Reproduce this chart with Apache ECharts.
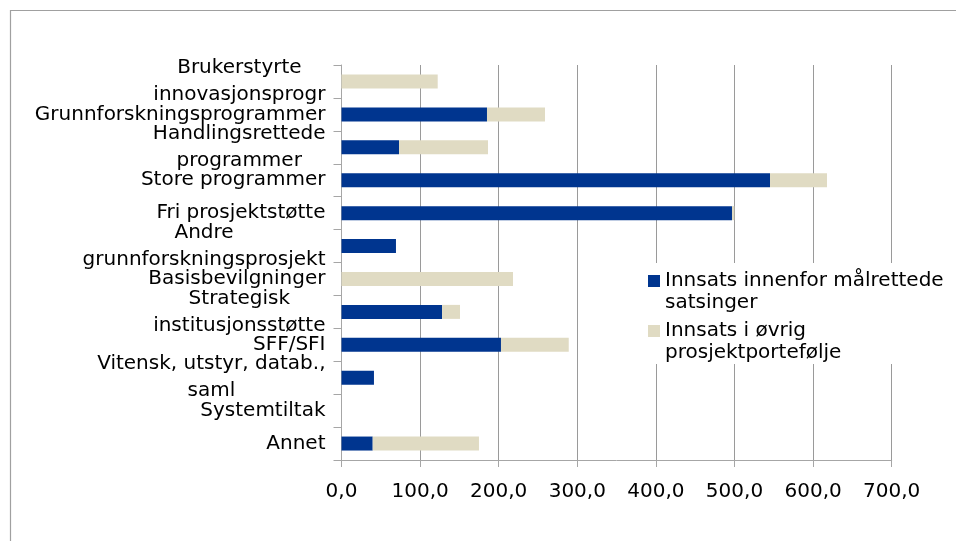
<!DOCTYPE html>
<html>
<head>
<meta charset="utf-8">
<script src="https://cdn.jsdelivr.net/npm/echarts@6/dist/echarts.min.js"></script>
<style>
html,body{margin:0;padding:0;background:#fff;}
#chart{width:956px;height:541px;}
</style>
</head>
<body>
<div id="chart"></div>
<script>
const categories = [
  'Brukerstyrte\ninnovasjonsprogr',
  'Grunnforskningsprogrammer',
  'Handlingsrettede\nprogrammer',
  'Store programmer',
  'Fri prosjektstøtte',
  'Andre\ngrunnforskningsprosjekt',
  'Basisbevilgninger',
  'Strategisk\ninstitusjonsstøtte',
  'SFF/SFI',
  'Vitensk, utstyr, datab.,\nsaml',
  'Systemtiltak',
  'Annet'
];
const seriesNames = [
  'Innsats innenfor målrettede\nsatsinger',
  'Innsats i øvrig\nprosjektportefølje'
];
const targeted = [0, 185.1, 73.2, 545.2, 496.8, 69.3, 0, 127.9, 202.9, 41.3, 0, 39.7];
const other    = [122.4, 73.8, 113.2, 72.5, 2.9, 0, 218.2, 22.9, 86.2, 0, 0, 135.2];
const xTicks = [0, 100, 200, 300, 400, 500, 600, 700];

const FONT = 'DejaVu Sans';
const chart = echarts.init(document.getElementById('chart'), null, {renderer: 'canvas'});
const legendIcon = 'path://M0,0H12V12H0Z M0,34L12,34';

chart.setOption({
  animation: false,
  backgroundColor: '#fff',
  textStyle: {fontFamily: FONT},
  graphic: [{
    type: 'rect',
    shape: {x: 10.5, y: 10.5, width: 1000, height: 1000},
    style: {fill: 'none', stroke: '#a0a0a0', lineWidth: 1.2},
    silent: true, z: -1
  }],
  grid: {left: 341.5, right: 64.3, top: 65, bottom: 81, containLabel: false, outerBoundsMode: 'none'},
  legend: {
    orient: 'vertical',
    left: 645, top: 263,
    padding: [7, 8, 0, 3],
    backgroundColor: '#fff',
    itemWidth: 12, itemHeight: 34,
    itemGap: 6,
    icon: legendIcon,
    textStyle: {fontFamily: FONT, fontSize: 20, lineHeight: 22, color: '#000', padding: [0,0,0,0]},
    data: seriesNames.map(n => ({name: n, icon: legendIcon}))
  },
  xAxis: {
    type: 'value',
    min: xTicks[0], max: xTicks[xTicks.length - 1], interval: 100,
    axisLine: {show: true, lineStyle: {color: '#a6a6a6', width: 1}},
    axisTick: {show: true, length: 7, lineStyle: {color: '#a6a6a6'}},
    splitLine: {show: true, lineStyle: {color: '#9a9a9a', width: 1}},
    axisLabel: {
      margin: 22, fontFamily: FONT, fontSize: 20, color: '#000',
      formatter: v => v.toFixed(1).replace('.', ',')
    }
  },
  yAxis: {
    type: 'category',
    inverse: true,
    data: categories,
    axisLine: {show: true, lineStyle: {color: '#a6a6a6', width: 1}},
    axisTick: {show: true, length: 8, interval: 0, lineStyle: {color: '#a6a6a6'}},
    splitLine: {show: false},
    axisLabel: {
      interval: 0, margin: 16, fontFamily: FONT, fontSize: 20, color: '#000',
      formatter: v => v.split('\n').map(s => '{c|' + s + '}').join('\n'),
      rich: {c: {align: 'center', fontFamily: FONT, fontSize: 20, lineHeight: 27, color: '#000'}}
    }
  },
  series: [
    {name: seriesNames[0], type: 'bar', stack: 'a', data: targeted, barWidth: 14,
     itemStyle: {color: '#00358f'}},
    {name: seriesNames[1], type: 'bar', stack: 'a', data: other, barWidth: 14,
     itemStyle: {color: '#e0dbc3'}}
  ]
});
</script>
</body>
</html>
